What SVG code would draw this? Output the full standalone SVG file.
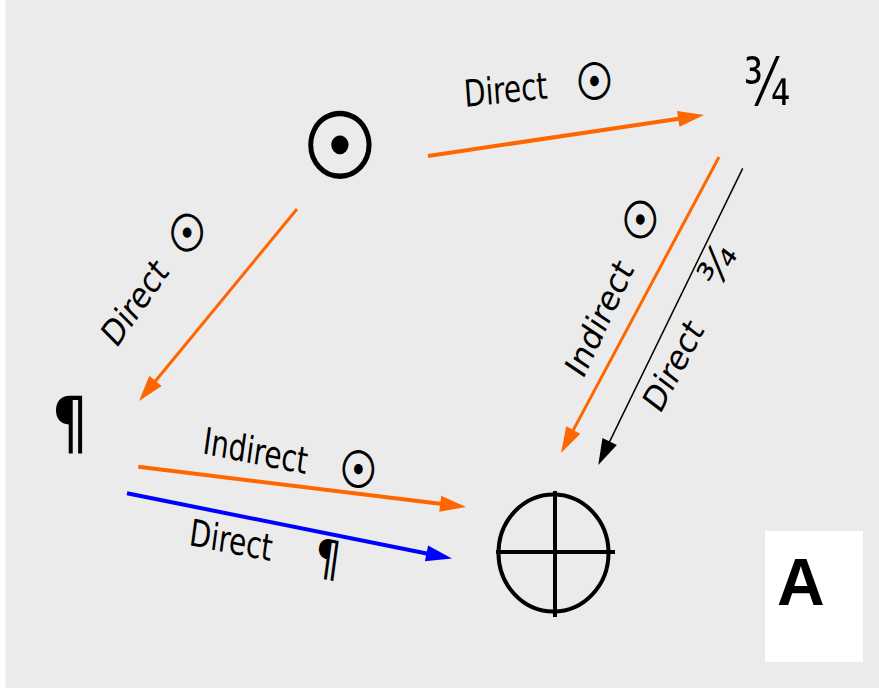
<svg xmlns="http://www.w3.org/2000/svg" width="879" height="689" viewBox="0 0 879 689">
<style>
.lbl{font-family:"DejaVu Sans Condensed","DejaVu Sans",sans-serif;font-stretch:condensed;font-size:31px;fill:#000}
.sym{font-family:"DejaVu Sans",sans-serif;font-stretch:normal;fill:#000}
.sun{font-size:42px;stroke:#000;stroke-width:1}
.c{fill:none}
</style>
<defs>
<marker id="ao" markerUnits="userSpaceOnUse" markerWidth="26" markerHeight="16" refX="4" refY="8" orient="auto" overflow="visible"><path d="M0,0 L26,8 L0,16 z" fill="#ff6600"/></marker>
<marker id="ak" markerUnits="userSpaceOnUse" markerWidth="26" markerHeight="16" refX="4" refY="8" orient="auto" overflow="visible"><path d="M0,0 L26,8 L0,16 z" fill="#000"/></marker>
<marker id="ab" markerUnits="userSpaceOnUse" markerWidth="26" markerHeight="16" refX="4" refY="8" orient="auto" overflow="visible"><path d="M0,0 L26,8 L0,16 z" fill="#0000ff"/></marker>
</defs>
<rect x="5.5" y="0" width="873.5" height="688" fill="#ebebeb"/>
<g id="connectors">
<line class="c" x1="428" y1="156" x2="682.2" y2="118.2" stroke="#ff6600" stroke-width="4" marker-end="url(#ao)"/>
<line class="c" x1="297" y1="209" x2="153" y2="384" stroke="#ff6600" stroke-width="3" marker-end="url(#ao)"/>
<line class="c" x1="719" y1="157" x2="571.4" y2="433.6" stroke="#ff6600" stroke-width="3" marker-end="url(#ao)"/>
<line class="c" x1="742.7" y1="168.3" x2="607.9" y2="445.2" stroke="#000" stroke-width="1.5" marker-end="url(#ak)"/>
<line class="c" x1="138.3" y1="466.7" x2="444.2" y2="504.3" stroke="#ff6600" stroke-width="4" marker-end="url(#ao)"/>
<line class="c" x1="127" y1="493.3" x2="430.4" y2="554.2" stroke="#0000ff" stroke-width="4" marker-end="url(#ab)"/>
</g>
<g id="labels" transform="scale(1,1.2)">
<text class="lbl" transform="translate(465,89.2) rotate(-5)">Direct <tspan class="sym sun" dx="19.7" dy="5">☉</tspan></text>
<text class="lbl" transform="translate(116.3,291.1) rotate(-50)">Direct <tspan class="sym sun" dx="9" dy="7">☉</tspan></text>
<text class="lbl" transform="translate(583,316.7) rotate(-60.8)">Indirect <tspan class="sym sun" dx="11.5">☉</tspan></text>
<text class="lbl" transform="translate(660,345.8) rotate(-57.5)">Direct <tspan class="sym" font-size="38" dx="26" dy="-6">¾</tspan></text>
<text class="lbl" transform="translate(201.7,377.8) rotate(9.5)">Indirect <tspan class="sym sun" dx="23.4" dy="2.4">☉</tspan></text>
<text class="lbl" transform="translate(188.3,454.2) rotate(9.2)">Direct <tspan class="sym" font-size="41" dx="33.9" dy="2.5">¶</tspan></text>
</g>
<g id="node-sun"><text class="sym" transform="translate(340,143) scale(1,1.08)" x="0" y="32.8" font-size="84" stroke="#000" stroke-width="2" text-anchor="middle">☉</text></g>
<g id="node-34"><text class="sym" transform="translate(767,105) scale(1,1.36)" x="0" y="0" font-size="48" text-anchor="middle">¾</text></g>
<g id="node-para"><text class="sym" transform="translate(70,446.8) scale(1,1.2)" x="0" y="0" font-size="58" text-anchor="middle">¶</text></g>
<g id="node-earth">
<ellipse cx="553.5" cy="553" rx="55" ry="58.5" fill="none" stroke="#000" stroke-width="4"/>
<line x1="555" y1="491" x2="555" y2="617" stroke="#000" stroke-width="4"/>
<line x1="496" y1="552" x2="615" y2="552" stroke="#000" stroke-width="4"/>
</g>
<g id="legend">
<rect x="765" y="531" width="98" height="131" fill="#ffffff"/>
<text x="777" y="605" font-family="Liberation Sans,Arial,sans-serif" font-weight="bold" font-size="66">A</text>
</g>
</svg>
